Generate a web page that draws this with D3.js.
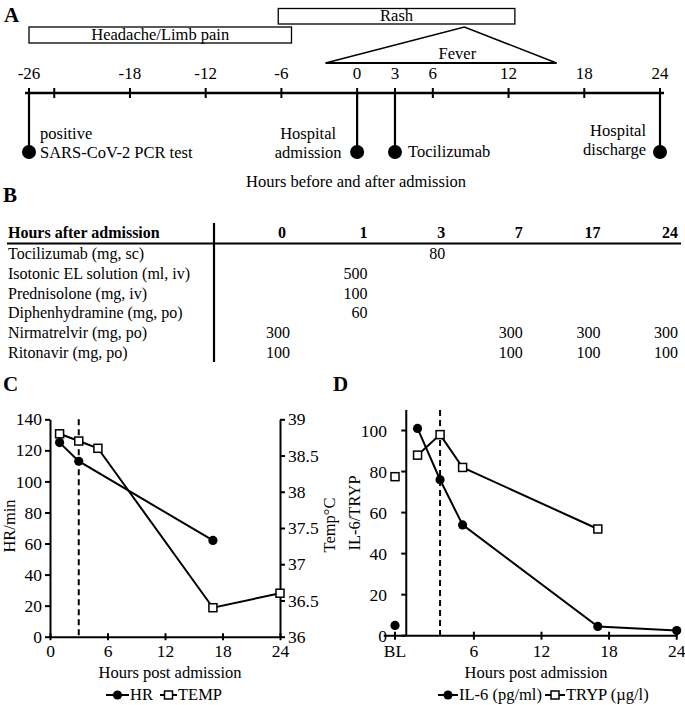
<!DOCTYPE html>
<html>
<head>
<meta charset="utf-8">
<script src="https://cdn.jsdelivr.net/npm/d3@7"></script>
<style>
  html, body { margin: 0; padding: 0; background: #fff; }
  svg { display: block; font-family: "Liberation Serif", "Times New Roman", serif; }
</style>
</head>
<body>
<svg id="chart" width="685" height="705"></svg>
<script>
// ---------- DATA ----------
// Panel A: timeline
const timelineTicks = [-26, -24, -18, -12, -6, 0, 3, 6, 12, 18, 24];
const timelineTickLabels = ["-26", "", "-18", "-12", "-6", "0", "3", "6", "12", "18", "24"];
const symptomNames = ["Headache/Limb pain", "Rash"];
const symptomStart = [-26, -6.25];
const symptomEnd = [-5.2, 12.5];
const feverName = "Fever";
const feverStart = -2.5, feverPeak = 8.5, feverEnd = 15.8;
const eventHours = [-26, 0, 3, 24];
const eventLabels = [["positive", "SARS-CoV-2 PCR test"], ["Hospital", "admission"], ["Tocilizumab"], ["Hospital", "discharge"]];
const timelineTitle = "Hours before and after admission";

// Panel B: medication table
const tableHeader = "Hours after admission";
const tableCols = ["0", "1", "3", "7", "17", "24"];
const drugs = ["Tocilizumab (mg, sc)", "Isotonic EL solution (ml, iv)", "Prednisolone (mg, iv)",
               "Diphenhydramine (mg, po)", "Nirmatrelvir (mg, po)", "Ritonavir (mg, po)"];
const doses = [
  [null, null, 80, null, null, null],
  [null, 500, null, null, null, null],
  [null, 100, null, null, null, null],
  [null, 60, null, null, null, null],
  [300, null, null, 300, 300, 300],
  [100, null, null, 100, 100, 100]
];

// Panel C: vitals
const hrHours = [1, 3, 17];
const hrValues = [125, 113, 62];
const tempHours = [1, 3, 5, 17, 24];
const tempValues = [38.8, 38.7, 38.6, 36.4, 36.6];
const cXTicks = [0, 6, 12, 18, 24];
const cYTicks = [0, 20, 40, 60, 80, 100, 120, 140];
const cY2Ticks = [36, 36.5, 37, 37.5, 38, 38.5, 39];
const tociHour = 3;

// Panel D: labs (BL = baseline, plotted at -1)
const il6Hours = [-1, 1, 3, 5, 17, 24];
const il6Values = [5, 101, 76, 54, 4.5, 2.5];
const trypHours = [-1, 1, 3, 5, 17];
const trypValues = [77.5, 88, 98, 82, 52];
const dXTicks = [-1, 6, 12, 18, 24];
const dXTickLabels = ["BL", "6", "12", "18", "24"];
const dYTicks = [0, 20, 40, 60, 80, 100];

// ---------- DRAW ----------
const svg = d3.select("#chart");
const black = "#000";

function panelLetter(t, x, y) {
  svg.append("text").attr("x", x).attr("y", y).attr("font-size", 21)
    .attr("font-weight", "bold").text(t);
}
panelLetter("A", 4, 22);
panelLetter("B", 3, 202);
panelLetter("C", 3, 391);
panelLetter("D", 333, 391);

// ----- Panel A -----
const tx = d3.scaleLinear().domain([-26, 24]).range([29, 660]);
const axisY = 93;
const gA = svg.append("g");
gA.append("line").attr("x1", tx(-26) - 4).attr("x2", tx(24) + 4)
  .attr("y1", axisY).attr("y2", axisY).attr("stroke", black).attr("stroke-width", 2.5);
gA.selectAll(".tk").data(timelineTicks).join("line")
  .attr("x1", d => tx(d)).attr("x2", d => tx(d))
  .attr("y1", axisY - 5).attr("y2", axisY + 5).attr("stroke", black).attr("stroke-width", 2);
gA.selectAll(".tl").data(timelineTicks).join("text")
  .attr("x", d => tx(d)).attr("y", 79).attr("text-anchor", "middle").attr("font-size", 17)
  .text((d, i) => timelineTickLabels[i]);

// symptom boxes
const boxRows = [[27, 16], [8.5, 15.5]];
symptomNames.forEach((n, i) => {
  const x0 = tx(symptomStart[i]), x1 = tx(symptomEnd[i]);
  gA.append("rect").attr("x", x0).attr("y", boxRows[i][0]).attr("width", x1 - x0)
    .attr("height", boxRows[i][1]).attr("fill", "#fff").attr("stroke", black).attr("stroke-width", 1.3);
  gA.append("text").attr("x", (x0 + x1) / 2).attr("y", boxRows[i][0] + boxRows[i][1] - 3)
    .attr("text-anchor", "middle").attr("font-size", 16.5).text(n);
});
// fever triangle
gA.append("path")
  .attr("d", `M${tx(feverStart)},63 L${tx(feverPeak)},27 L${tx(feverEnd)},63`)
  .attr("fill", "none").attr("stroke", black).attr("stroke-width", 1.5);
gA.append("line").attr("x1", tx(feverStart)).attr("x2", tx(feverEnd)).attr("y1", 63).attr("y2", 63)
  .attr("stroke", black).attr("stroke-width", 2.2);
gA.append("text").attr("x", tx(feverPeak) - 7).attr("y", 59).attr("text-anchor", "middle")
  .attr("font-size", 16.5).text(feverName);

// events (lollipops)
const evStyle = [
  { anchor: "start", dx: 11, ys: [139, 158] },
  { anchor: "middle", dx: -49, ys: [138.5, 157.5] },
  { anchor: "start", dx: 13, ys: [157] },
  { anchor: "end", dx: -14, ys: [136, 155] }
];
eventHours.forEach((h, i) => {
  const x = tx(h);
  gA.append("line").attr("x1", x).attr("x2", x).attr("y1", axisY).attr("y2", 152)
    .attr("stroke", black).attr("stroke-width", 2.2);
  gA.append("circle").attr("cx", x).attr("cy", 152).attr("r", 7).attr("fill", black);
  eventLabels[i].forEach((l, j) => {
    gA.append("text").attr("x", x + evStyle[i].dx).attr("y", evStyle[i].ys[j])
      .attr("text-anchor", evStyle[i].anchor).attr("font-size", 16.5).text(l);
  });
});
gA.append("text").attr("x", 356).attr("y", 187).attr("text-anchor", "middle")
  .attr("font-size", 16.5).text(timelineTitle);

// ----- Panel B -----
const gB = svg.append("g");
const colX = d3.scalePoint().domain(tableCols).range([290, 678]);
const rowY = d3.scalePoint().domain(drugs).range([259, 358]);
gB.append("text").attr("x", 8).attr("y", 238).attr("font-size", 16).attr("font-weight", "bold").text(tableHeader);
gB.selectAll(".ch").data(tableCols).join("text")
  .attr("x", d => colX(d) - (d === "0" ? 4 : 0)).attr("y", 238).attr("text-anchor", "end")
  .attr("font-size", 16).attr("font-weight", "bold").text(d => d);
gB.append("line").attr("x1", 7).attr("x2", 681).attr("y1", 243.5).attr("y2", 243.5)
  .attr("stroke", black).attr("stroke-width", 2.2);
gB.append("line").attr("x1", 214).attr("x2", 214).attr("y1", 223).attr("y2", 362)
  .attr("stroke", black).attr("stroke-width", 2.2);
drugs.forEach((dname, r) => {
  gB.append("text").attr("x", 8).attr("y", rowY(dname)).attr("font-size", 16).text(dname);
  doses[r].forEach((v, c) => {
    if (v === null) return;
    gB.append("text").attr("x", colX(tableCols[c])).attr("y", rowY(dname))
      .attr("text-anchor", "end").attr("font-size", 16).text(v);
  });
});

// ----- Panel C -----
const gC = svg.append("g");
const cx = d3.scaleLinear().domain([0, 24]).range([50, 280]);
const cy = d3.scaleLinear().domain([0, 140]).range([636.7, 419.3]);
const cy2 = d3.scaleLinear().domain([36, 39]).range([636.7, 419.3]);
const tickFont = 17.5;

function styleAxis(g) {
  g.selectAll("path").attr("stroke", black).attr("stroke-width", 2);
  g.selectAll("line").attr("stroke", black).attr("stroke-width", 2);
  g.selectAll("text").attr("font-size", tickFont).attr("font-family", "Liberation Serif, serif").attr("fill", black);
}
// left axis
const cL = gC.append("g").attr("transform", `translate(${cx(0)},0)`)
  .call(d3.axisLeft(cy).tickValues(cYTicks).tickSize(5).tickSizeOuter(0).tickPadding(3));
styleAxis(cL);
// right axis
const cR = gC.append("g").attr("transform", `translate(${cx(24)},0)`)
  .call(d3.axisRight(cy2).tickValues(cY2Ticks).tickSize(5).tickSizeOuter(0).tickPadding(3)
    .tickFormat(d => d3.format("")(d)));
styleAxis(cR);
// bottom axis
const cB = gC.append("g").attr("transform", `translate(0,${cy(0)})`)
  .call(d3.axisBottom(cx).tickValues(cXTicks).tickSize(0).tickSizeOuter(0).tickPadding(8));
styleAxis(cB);
cB.selectAll(".tick").append("line").attr("y1", -3.5).attr("y2", 3.5).attr("stroke", black).attr("stroke-width", 2);

// dashed tocilizumab line
gC.append("line").attr("x1", cx(tociHour)).attr("x2", cx(tociHour)).attr("y1", cy(140)).attr("y2", cy(0))
  .attr("stroke", black).attr("stroke-width", 2).attr("stroke-dasharray", "6,4");

const lineC = d3.line();
gC.append("path").attr("d", lineC(hrHours.map((h, i) => [cx(h), cy(hrValues[i])])))
  .attr("fill", "none").attr("stroke", black).attr("stroke-width", 2);
gC.append("path").attr("d", lineC(tempHours.map((h, i) => [cx(h), cy2(tempValues[i])])))
  .attr("fill", "none").attr("stroke", black).attr("stroke-width", 2);
gC.selectAll(".hr").data(hrHours).join("circle")
  .attr("cx", d => cx(d)).attr("cy", (d, i) => cy(hrValues[i])).attr("r", 4.6).attr("fill", black);
gC.selectAll(".tp").data(tempHours).join("rect")
  .attr("x", d => cx(d) - 4).attr("y", (d, i) => cy2(tempValues[i]) - 4).attr("width", 8).attr("height", 8)
  .attr("fill", "#fff").attr("stroke", black).attr("stroke-width", 1.5);

gC.append("text").attr("x", 170).attr("y", 678).attr("text-anchor", "middle").attr("font-size", 16.5).text("Hours post admission");
gC.append("text").attr("transform", "translate(15,526) rotate(-90)").attr("text-anchor", "middle")
  .attr("font-size", 16.5).text("HR/min");
gC.append("text").attr("transform", "translate(335,525) rotate(-90)").attr("text-anchor", "middle")
  .attr("font-size", 16.5).text("Temp°C");

// legend
function legendItem(g, x0, x1, kind, label) {
  const y = 695;
  g.append("line").attr("x1", x0).attr("x2", x1).attr("y1", y).attr("y2", y).attr("stroke", black).attr("stroke-width", 2);
  const m = (x0 + x1) / 2;
  if (kind === "circle") g.append("circle").attr("cx", m).attr("cy", y).attr("r", 4.6).attr("fill", black);
  else g.append("rect").attr("x", m - 4).attr("y", y - 4).attr("width", 8).attr("height", 8)
    .attr("fill", "#fff").attr("stroke", black).attr("stroke-width", 1.5);
  g.append("text").attr("x", x1 + 1).attr("y", 700).attr("font-size", 16.5).text(label);
}
legendItem(gC, 106, 129, "circle", "HR");
legendItem(gC, 160, 177, "rect", "TEMP");

// ----- Panel D -----
const gD = svg.append("g");
const dx = d3.scaleLinear().domain([-1, 24]).range([395, 676.7]);
const dy = d3.scaleLinear().domain([0, 110]).range([635.7, 410]);
gD.append("line").attr("x1", dx(0)).attr("x2", dx(0)).attr("y1", dy(110)).attr("y2", dy(0))
  .attr("stroke", black).attr("stroke-width", 2);
gD.selectAll(".yt").data(dYTicks).join("line")
  .attr("x1", dx(0) - 5).attr("x2", dx(0)).attr("y1", d => dy(d)).attr("y2", d => dy(d))
  .attr("stroke", black).attr("stroke-width", 2);
gD.selectAll(".yl").data(dYTicks).join("text")
  .attr("x", 387).attr("y", d => dy(d)).attr("dy", "0.35em").attr("text-anchor", "end")
  .attr("font-size", tickFont).text(d => d);
gD.append("line").attr("x1", dx(-2)).attr("x2", dx(24) + 1).attr("y1", dy(0)).attr("y2", dy(0))
  .attr("stroke", black).attr("stroke-width", 2);
gD.selectAll(".xt").data(dXTicks).join("line")
  .attr("x1", d => dx(d)).attr("x2", d => dx(d)).attr("y1", dy(0) - 4).attr("y2", dy(0) + 4)
  .attr("stroke", black).attr("stroke-width", 2);
gD.selectAll(".xl").data(dXTicks).join("text")
  .attr("x", d => dx(d)).attr("y", 657).attr("text-anchor", "middle")
  .attr("font-size", tickFont).text((d, i) => dXTickLabels[i]);

gD.append("line").attr("x1", dx(tociHour)).attr("x2", dx(tociHour)).attr("y1", dy(110)).attr("y2", dy(0))
  .attr("stroke", black).attr("stroke-width", 2).attr("stroke-dasharray", "6,4");

gD.append("path").attr("d", lineC(il6Hours.slice(1).map((h, i) => [dx(h), dy(il6Values[i + 1])])))
  .attr("fill", "none").attr("stroke", black).attr("stroke-width", 2);
gD.append("path").attr("d", lineC(trypHours.slice(1).map((h, i) => [dx(h), dy(trypValues[i + 1])])))
  .attr("fill", "none").attr("stroke", black).attr("stroke-width", 2);
gD.selectAll(".il").data(il6Hours).join("circle")
  .attr("cx", d => dx(d)).attr("cy", (d, i) => dy(il6Values[i])).attr("r", 4.6).attr("fill", black);
gD.selectAll(".tr").data(trypHours).join("rect")
  .attr("x", d => dx(d) - 4).attr("y", (d, i) => dy(trypValues[i]) - 4).attr("width", 8).attr("height", 8)
  .attr("fill", "#fff").attr("stroke", black).attr("stroke-width", 1.5);

gD.append("text").attr("x", 536).attr("y", 678).attr("text-anchor", "middle").attr("font-size", 16.5).text("Hours post admission");
gD.append("text").attr("transform", "translate(360,513) rotate(-90)").attr("text-anchor", "middle")
  .attr("font-size", 16.5).text("IL-6/TRYP");
legendItem(gD, 438, 458, "circle", "IL-6 (pg/ml)");
legendItem(gD, 545, 565, "rect", "TRYP (µg/l)");
</script>
</body>
</html>
